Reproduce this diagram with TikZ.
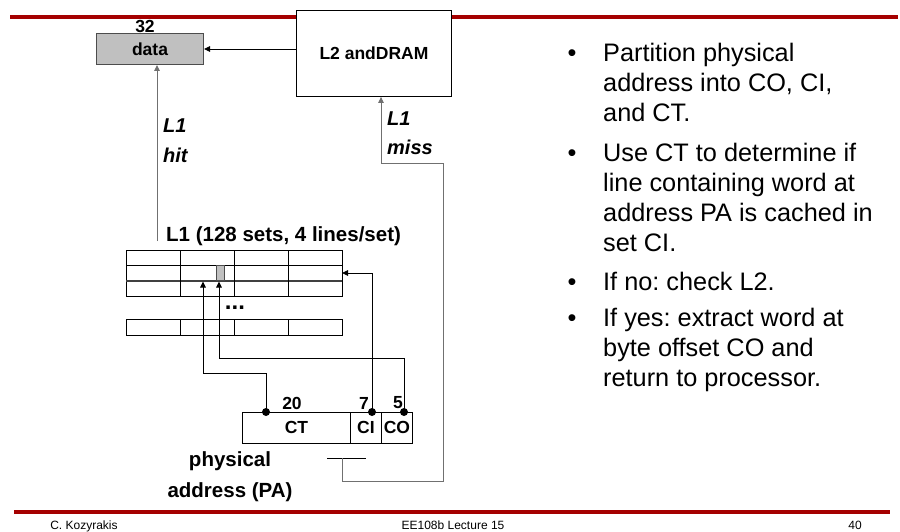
\documentclass[tikz,border=0pt]{standalone}
\usepackage{fontspec}
\setmainfont{Liberation Sans}
\usetikzlibrary{arrows.meta}
\definecolor{slidered}{HTML}{A50000}
\definecolor{boxgray}{HTML}{C0C0C0}
\definecolor{linegray}{HTML}{707070}
\frenchspacing
\begin{document}
\begin{tikzpicture}[x=1pt,y=-1pt,
  ln/.style={line width=0.9pt, black},
  gln/.style={line width=1pt, linegray},
  arr/.style={-{Triangle[length=6pt,width=5.5pt]}},
  redbar/.style={line width=4pt, slidered},
  lbl/.style={font=\fontsize{17.5}{20}\selectfont\bfseries, inner sep=0pt},
  big/.style={font=\fontsize{20.5}{24}\selectfont\bfseries, inner sep=0pt},
  ital/.style={font=\fontsize{20}{24}\selectfont\bfseries\itshape, inner sep=0pt},
  bul/.style={font=\fontsize{25.3}{30}\selectfont, inner sep=0pt, anchor=base west},
  foot/.style={font=\fontsize{12}{14}\selectfont, inner sep=0pt, anchor=base},
  dot/.style={circle, fill=black, inner sep=0pt, minimum size=8pt}
]
\useasboundingbox (0,0) rectangle (900,532);
% slide bars
\draw[redbar] (10,17.5) -- (898,17.5);
\draw[redbar] (14,512) -- (890,512);
% boxes
\node[draw, ln, fill=white, minimum width=155, minimum height=86, anchor=north west, lbl] (l2) at (296,10) {L2 andDRAM};
\node[draw, line width=1pt, draw=black!70, fill=boxgray, minimum width=107, minimum height=31, anchor=north west, lbl] (data) at (96,33) {data};
\node[lbl] (w32) at (145,26.5) {32};
\draw[ln, arr] (l2.west |- data.east) -- (data.east);
% L1 hit
\coordinate (hitstart) at (157,241);
\draw[gln, arr] (hitstart) -- (hitstart |- data.south);
\node[ital, anchor=base west] (hitl1) at (163,133) {L1};
\node[ital, anchor=base west] (hit) at (163,163) {hit};
% L1 table
\node[big, anchor=base west] (l1title) at (166,241) {L1 (128 sets, 4 lines/set)};
\draw[ln] (126,250) rectangle (342,296);
\draw[ln] (126,265) -- (342,265);
\draw[line width=1.8pt, black!75] (126,281) -- (342,281);
\foreach \x in {180,234,288} \draw[ln] (\x,250) -- (\x,296);
\draw[line width=0.8pt, black!70, fill=boxgray] (216,265) rectangle (224,280);
\draw[ln] (126,319) rectangle (342,335);
\foreach \x in {180,234,288} \draw[ln] (\x,319) -- (\x,335);
\node[font=\fontsize{24}{24}\selectfont\bfseries, inner sep=0pt] (dots) at (235,308) {...};
\coordinate (ctin) at (203,281.5);
\coordinate (coin) at (219,281.5);
\coordinate (ciin) at (342,273);
% address
\node[draw, ln, minimum width=108, minimum height=31, anchor=north west, lbl] (ct) at (242,412) {CT};
\node[draw, ln, minimum width=31, minimum height=31, anchor=north west, lbl] (ci) at (350,412) {CI};
\node[draw, ln, minimum width=31, minimum height=31, anchor=north west, lbl] (co) at (381,412) {CO};
\node[dot] (dct) at (266,412) {};
\node[dot] (dci) at (372,412) {};
\node[dot] (dco) at (404,412) {};
\node[lbl] (n20) at (292,403) {20};
\node[lbl] (n7) at (364,403) {7};
\node[lbl] (n5) at (398,403) {5};
\node[big, anchor=base] (phys) at (230,466) {physical};
\node[big, anchor=base] (pa) at (230,497) {address (PA)};
% index/tag/offset lines
\coordinate (ctturn) at (203,373);
\coordinate (coturn) at (219,358);
\draw[ln, arr] (dct.center) |- (ctturn) -- (ctin);
\draw[ln, arr] (dco.center) |- (coturn) -- (coin);
\draw[ln, arr] (dci.center) |- (ciin);
% L1 miss path
\coordinate (m1) at (327,458);
\coordinate (m2) at (366,458);
\draw[ln] (m1) -- (m2);
\coordinate (mstart) at (342,458);
\coordinate (mcorner) at (443,481);
\coordinate (mturn) at (381,164);
\draw[gln, arr] (mstart) |- (mcorner) |- (mturn) -- (mturn |- l2.south);
\node[ital, anchor=base west] (missl1) at (387,126) {L1};
\node[ital, anchor=base west] (miss) at (387,155) {miss};
% bullets
\foreach \y/\t in {62/Partition physical, 92/{address into CO, CI,}, 122/and CT., 161/Use CT to determine if, 191/line containing word at, 221/address PA is cached in, 251/set CI., 290/If no: check L2., 326/If yes: extract word at, 356/byte offset CO and, 386/return to processor.}
  \node[bul] at (603,\y) {\t};
\foreach \y in {62,161,290,326}
  \node[bul, anchor=base] at (572,\y) {•};
% footer
\node[foot] (f1) at (84,529) {C. Kozyrakis};
\node[foot] (f2) at (453,529) {EE108b Lecture 15};
\node[foot] (f3) at (855,529) {40};
\end{tikzpicture}
\end{document}
